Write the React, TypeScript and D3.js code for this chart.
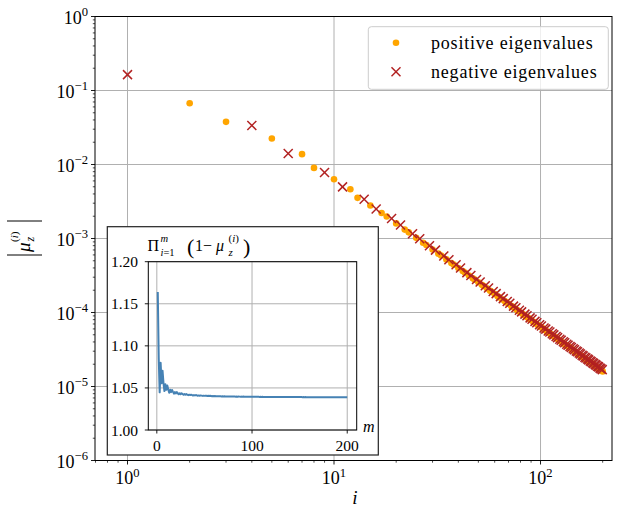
import React from 'react';
import * as d3 from 'd3';

const W = 617;
const H = 508;

// signed eigenvalues mu_z^(i), i = 1..200
const mu: number[] = [
  -0.164, 0.0673, 0.0377, -0.0337, 0.0225, -0.0141, 0.0138, 0.0090, -0.0078, 0.00633,
  -0.00498, 0.00464, 0.00354, -0.0034, 0.00279, -0.00251, 2.21e-3, 1.98e-3, -1.86e-3, 1.60e-3,
  -1.52e-3, 1.32e-3, 1.21e-3, -1.16e-3, 1.02e-3, -9.91e-4, 8.78e-4, 8.16e-4, -7.97e-4, 7.11e-4,
  -6.97e-4, 6.25e-4, 5.88e-4, -5.80e-4, 5.22e-4, -5.17e-4, 4.67e-4, 4.43e-4, -4.41e-4, 4.00e-4,
  -3.99e-4, 3.63e-4, 3.46e-4, -3.46e-4, 3.16e-4, -3.17e-4, 2.90e-4, 2.78e-4, -2.79e-4, 2.56e-4,
  -2.58e-4, 2.37e-4, 2.28e-4, -2.30e-4, 2.12e-4, -2.14e-4, 1.97e-4, 1.90e-4, -1.92e-4, 1.78e-4,
  -1.80e-4, 1.66e-4, 1.61e-4, -1.64e-4, 1.51e-4, -1.54e-4, 1.43e-4, 1.38e-4, -1.41e-4, 1.31e-4,
  -1.33e-4, 1.23e-4, 1.20e-4, -1.22e-4, 1.14e-4, -1.16e-4, 1.08e-4, 1.05e-4, -1.07e-4, 1.00e-4,
  -1.02e-4, 9.52e-5, 9.29e-5, -9.50e-5, 8.86e-5, -9.06e-5, 8.46e-5, 8.26e-5, -8.46e-5, 7.90e-5,
  -8.09e-5, 7.56e-5, 7.40e-5, -7.58e-5, 7.09e-5, -7.27e-5, 6.80e-5, 6.66e-5, -6.84e-5, 6.40e-5,
  -6.57e-5, 6.15e-5, 6.03e-5, -6.19e-5, 5.80e-5, -5.96e-5, 5.59e-5, 5.49e-5, -5.64e-5, 5.29e-5,
  -5.44e-5, 5.10e-5, 5.01e-5, -5.16e-5, 4.84e-5, -4.98e-5, 4.68e-5, 4.60e-5, -4.73e-5, 4.44e-5,
  -4.58e-5, 4.30e-5, 4.23e-5, -4.36e-5, 4.10e-5, -4.22e-5, 3.97e-5, 3.91e-5, -4.03e-5, 3.79e-5,
  -3.90e-5, 3.67e-5, 3.62e-5, -3.73e-5, 3.51e-5, -3.62e-5, 3.41e-5, 3.36e-5, -3.47e-5, 3.27e-5,
  -3.37e-5, 3.17e-5, 3.13e-5, -3.23e-5, 3.04e-5, -3.14e-5, 2.96e-5, 2.92e-5, -3.02e-5, 2.84e-5,
  -2.94e-5, 2.77e-5, 2.73e-5, -2.83e-5, 2.66e-5, -2.75e-5, 2.60e-5, 2.56e-5, -2.65e-5, 2.50e-5,
  -2.58e-5, 2.44e-5, 2.41e-5, -2.49e-5, 2.35e-5, -2.43e-5, 2.29e-5, 2.27e-5, -2.35e-5, 2.21e-5,
  -2.29e-5, 2.16e-5, 2.14e-5, -2.21e-5, 2.09e-5, -2.16e-5, 2.04e-5, 2.02e-5, -2.09e-5, 1.98e-5,
  -2.05e-5, 1.93e-5, 1.91e-5, -1.98e-5, 1.87e-5, -1.94e-5, 1.83e-5, 1.81e-5, -1.88e-5, 1.77e-5,
  -1.84e-5, 1.74e-5, 1.72e-5, -1.78e-5, 1.68e-5, -1.74e-5, 1.65e-5, 1.63e-5, -1.69e-5, 1.60e-5,
];

const legendLabels = ['positive eigenvalues', 'negative eigenvalues'];
const xDomain = [0.696, 221.9];
const yDomain = [1e-6, 1];
const insetXTicks = [0, 100, 200];
const insetYTicks = [1.0, 1.05, 1.1, 1.15, 1.2];

const ORANGE = '#ffa500';
const RED = '#b22222';
const BLUE = '#4682b4';
const GRID = '#b0b0b0';
const FONT = '"Liberation Serif", "DejaVu Serif", serif';

function isDecade(t: number) {
  const l = Math.log10(t);
  return Math.abs(l - Math.round(l)) < 1e-6;
}

function Cross({ cx, cy, s, color }: { cx: number; cy: number; s: number; color: string }) {
  return (
    <g stroke={color} strokeWidth={1.5}>
      <line x1={cx - s} y1={cy - s} x2={cx + s} y2={cy + s} />
      <line x1={cx - s} y1={cy + s} x2={cx + s} y2={cy - s} />
    </g>
  );
}

export default function App() {
  const L = 95, R = 612, T = 16.5, B = 460.5;
  const x = d3.scaleLog().domain(xDomain).range([L, R]);
  const y = d3.scaleLog().domain(yDomain).range([B, T]);

  const pts = mu.map((v, k) => ({ i: k + 1, v }));
  const pos = pts.filter((p) => p.v > 0);
  const neg = pts.filter((p) => p.v < 0);

  let prod = 1;
  const cum = pts.map((p) => {
    prod *= 1 - p.v;
    return { m: p.i, p: prod };
  });

  const xt = x.ticks();
  const yt = y.ticks();

  // inset
  const iL = 148.3, iR = 356.7, iT = 261.7, iB = 430;
  const ix = d3.scaleLinear().domain([1 - 9.95, 200 + 9.95]).range([iL, iR]);
  const iy = d3.scaleLinear().domain([1.0, 1.2]).range([iB, iT]);
  const line = d3
    .line<{ m: number; p: number }>()
    .x((d) => ix(d.m))
    .y((d) => iy(d.p));

  return (
    <svg
      width={W}
      height={H}
      style={{ position: 'absolute', left: 0, top: 0, background: '#fff' }}
      fontFamily={FONT}
    >
      <rect x={0} y={0} width={W} height={H} fill="#fff" />
      {/* grid */}
      {xt.filter(isDecade).map((t) => (
        <line key={'gx' + t} x1={x(t)} x2={x(t)} y1={T} y2={B} stroke={GRID} strokeWidth={1} />
      ))}
      {yt.filter(isDecade).map((t) => (
        <line key={'gy' + t} x1={L} x2={R} y1={y(t)} y2={y(t)} stroke={GRID} strokeWidth={1} />
      ))}

      {/* data */}
      {pos.map((p) => (
        <circle key={'p' + p.i} cx={x(p.i)} cy={y(p.v)} r={3.3} fill={ORANGE} />
      ))}
      {neg.map((p) => (
        <Cross key={'n' + p.i} cx={x(p.i)} cy={y(-p.v)} s={4.5} color={RED} />
      ))}

      {/* spines */}
      <rect x={L} y={T} width={R - L} height={B - T} fill="none" stroke="#000" strokeWidth={1} />

      {/* x ticks */}
      {xt.map((t) => (
        <line
          key={'tx' + t}
          x1={x(t)}
          x2={x(t)}
          y1={B}
          y2={B + (isDecade(t) ? 4 : 2.2)}
          stroke="#000"
          strokeWidth={isDecade(t) ? 0.9 : 0.7}
        />
      ))}
      {xt.filter(isDecade).map((t) => (
        <text key={'lx' + t} x={x(t)} y={484} fontSize={18} textAnchor="middle" fill="#000">
          10
          <tspan fontSize={12.6} dy={-7}>
            {String(Math.round(Math.log10(t)))}
          </tspan>
        </text>
      ))}

      {/* y ticks */}
      {yt.map((t) => (
        <line
          key={'ty' + t}
          x1={L - (isDecade(t) ? 4 : 2.2)}
          x2={L}
          y1={y(t)}
          y2={y(t)}
          stroke="#000"
          strokeWidth={isDecade(t) ? 0.9 : 0.7}
        />
      ))}
      {yt.filter(isDecade).map((t) => {
        const e = Math.round(Math.log10(t));
        return (
          <text key={'ly' + t} x={88} y={y(t) + 7} fontSize={18} textAnchor="end" fill="#000">
            10
            <tspan fontSize={12.6} dy={-7.5}>
              {e === 0 ? '0' : '\u2212' + String(-e)}
            </tspan>
          </text>
        );
      })}

      {/* axis labels */}
      <text x={355} y={504} fontSize={19} fontStyle="italic" textAnchor="middle">
        i
      </text>
      <g transform="translate(25,238) rotate(-90)">
        <line x1={-17} x2={-17} y1={-18} y2={17} stroke="#000" strokeWidth={1} />
        <line x1={17} x2={17} y1={-18} y2={17} stroke="#000" strokeWidth={1} />
        <text x={-14} y={5} fontSize={19} fontStyle="italic">
          μ
        </text>
        <text x={-3.5} y={9} fontSize={12} fontStyle="italic">
          z
        </text>
        <text x={-4} y={-7} fontSize={11}>
          (<tspan fontStyle="italic">i</tspan>)
        </text>
      </g>

      {/* legend */}
      <rect x={368.3} y={26.7} width={240} height={62.6} rx={3} fill="#fff" fillOpacity={0.8} stroke="#cccccc" strokeWidth={1} />
      <circle cx={396} cy={42.7} r={3.3} fill={ORANGE} />
      <Cross cx={396} cy={71.7} s={4.5} color={RED} />
      <text x={431} y={48.5} fontSize={18} letterSpacing={0.8}>
        {legendLabels[0]}
      </text>
      <text x={431} y={77.5} fontSize={18} letterSpacing={0.8}>
        {legendLabels[1]}
      </text>

      {/* inset */}
      <rect x={107.3} y={226.7} width={271} height={228.3} fill="#fff" stroke="#222" strokeWidth={1.2} />
      {insetXTicks.map((t) => (
        <line key={'igx' + t} x1={ix(t)} x2={ix(t)} y1={iT} y2={iB} stroke={GRID} strokeWidth={1} />
      ))}
      {insetYTicks.map((t) => (
        <line key={'igy' + t} x1={iL} x2={iR} y1={iy(t)} y2={iy(t)} stroke={GRID} strokeWidth={1} />
      ))}
      <path d={line(cum) || ''} fill="none" stroke={BLUE} strokeWidth={2} strokeLinejoin="round" />
      <rect x={iL} y={iT} width={iR - iL} height={iB - iT} fill="none" stroke="#000" strokeWidth={1} />
      {insetXTicks.map((t) => (
        <g key={'itx' + t}>
          <line x1={ix(t)} x2={ix(t)} y1={iB} y2={iB + 3.5} stroke="#000" strokeWidth={0.9} />
          <text x={ix(t)} y={451} fontSize={15.5} textAnchor="middle">
            {String(t)}
          </text>
        </g>
      ))}
      {insetYTicks.map((t) => (
        <g key={'ity' + t}>
          <line x1={iL - 3.5} x2={iL} y1={iy(t)} y2={iy(t)} stroke="#000" strokeWidth={0.9} />
          <text x={138} y={iy(t) + 5.5} fontSize={15.5} textAnchor="end">
            {t.toFixed(2)}
          </text>
        </g>
      ))}
      <text x={363} y={432} fontSize={16} fontStyle="italic">
        m
      </text>
      {/* inset title */}
      <text x={147.5} y={251} fontSize={16}>Π</text>
      <text x={160.5} y={242} fontSize={10.5} fontStyle="italic">m</text>
      <text x={160.5} y={256} fontSize={10.5}>
        <tspan fontStyle="italic">i</tspan>=1
      </text>
      <text x={187} y={254} fontSize={22}>(</text>
      <text x={195} y={251} fontSize={16}>1</text>
      <text x={203} y={251} fontSize={16}>−</text>
      <text x={216} y={251} fontSize={16} fontStyle="italic">μ</text>
      <text x={228.5} y={256} fontSize={11} fontStyle="italic">z</text>
      <text x={228.5} y={242} fontSize={11}>
        (<tspan fontStyle="italic">i</tspan>)
      </text>
      <text x={243} y={254} fontSize={22}>)</text>
    </svg>
  );
}
